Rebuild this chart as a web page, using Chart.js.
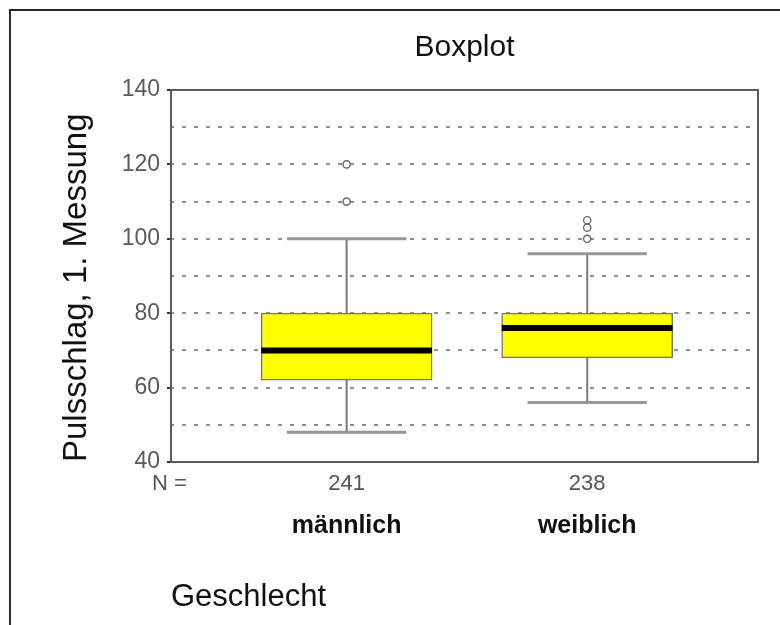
<!DOCTYPE html>
<html>
<head>
<meta charset="utf-8">
<script src="https://cdn.jsdelivr.net/npm/chart.js@4/dist/chart.umd.min.js"></script>
<style>
  html, body { margin: 0; padding: 0; background: #fff; }
  #wrap { width: 780px; height: 625px; }
</style>
</head>
<body>
<div id="wrap"><canvas id="chart" width="780" height="625"></canvas></div>
<script>
// Pulse rate (first measurement) by sex
const categories = ['männlich', 'weiblich'];
const counts = [241, 238];
const whiskerLow = [48, 56];
const quartile1 = [62, 68];
const medians = [70, 76];
const quartile3 = [80, 80];
const whiskerHigh = [100, 96];
const outliers = [[110, 120], [100, 103, 105]];
const yTicks = [40, 60, 80, 100, 120, 140];

const FONT = "'Liberation Sans', Arial, Helvetica, sans-serif";
const BOX_PX = 171;      // box width in pixels
const CAP_HALF = 0.248;  // whisker cap half-width (x units)
const MED_HALF = 0.355;  // median bar half-width (x units)

const xs = categories.map((_, i) => i + 1);

// build segment lists (null points break the line between groups)
function segments(fn) {
  const out = [];
  xs.forEach((x, i) => { fn(x, i).forEach(p => out.push(p)); out.push({ x: x + 0.5, y: null }); });
  return out;
}

const boxData = xs.map((x, i) => ({ x, y: [quartile1[i], quartile3[i]] }));
const stemData = segments((x, i) => [{ x, y: whiskerLow[i] }, { x, y: whiskerHigh[i] }]);
const capData = segments((x, i) => [
  { x: x - CAP_HALF, y: whiskerHigh[i] }, { x: x + CAP_HALF, y: whiskerHigh[i] }, { x, y: null },
  { x: x - CAP_HALF, y: whiskerLow[i] }, { x: x + CAP_HALF, y: whiskerLow[i] }
]);
const medianData = segments((x, i) => [{ x: x - MED_HALF, y: medians[i] }, { x: x + MED_HALF, y: medians[i] }]);
const outlierData = [];
xs.forEach((x, i) => outliers[i].forEach(v => outlierData.push({ x, y: v })));

// outer page frame and plot frame, plus the "N =" row label
const framePlugin = {
  id: 'frames',
  afterDraw(chart) {
    const { ctx, chartArea: a } = chart;
    ctx.save();
    ctx.strokeStyle = '#2a2a2a';
    ctx.lineWidth = 2;
    ctx.beginPath();
    ctx.moveTo(10, 625); ctx.lineTo(10, 10); ctx.lineTo(780, 10);
    ctx.stroke();
    ctx.strokeStyle = '#5c5c5c';
    ctx.lineWidth = 2;
    ctx.strokeRect(a.left, a.top, a.right - a.left, a.bottom - a.top);
    const sx = chart.scales.x;
    ctx.fillStyle = '#555';
    ctx.font = '22px ' + FONT;
    ctx.textAlign = 'left';
    ctx.textBaseline = 'middle';
    ctx.fillText('N =', a.left - 19, sx.top + 8.8 + 13.2);
    ctx.restore();
  }
};

const xRange = { min: 0.27, max: 2.71 };

new Chart(document.getElementById('chart'), {
  type: 'bar',
  data: {
    datasets: [
      {
        type: 'bar', data: boxData, order: 5,
        backgroundColor: '#ffff00', borderColor: '#767676', borderWidth: 1.5,
        borderSkipped: false, barThickness: BOX_PX
      },
      {
        type: 'line', data: stemData, order: 6, spanGaps: false,
        borderColor: '#7a7a7a', borderWidth: 2, pointRadius: 0
      },
      {
        type: 'line', data: capData, order: 4, spanGaps: false,
        borderColor: '#979797', borderWidth: 3, pointRadius: 0
      },
      {
        type: 'line', data: medianData, order: 3, spanGaps: false,
        borderColor: '#000', borderWidth: 6, pointRadius: 0, borderCapStyle: 'butt'
      },
      {
        type: 'scatter', data: outlierData, order: 1,
        pointStyle: 'circle', pointRadius: 3.6, pointBorderWidth: 1.4,
        pointBorderColor: '#666', pointBackgroundColor: '#fff'
      }
    ]
  },
  options: {
    responsive: false,
    animation: false,
    layout: { padding: { left: 0, right: 22, top: 0, bottom: 0 } },
    plugins: {
      legend: { display: false },
      tooltip: { enabled: false },
      title: {
        display: true, text: 'Boxplot', fullSize: false, color: '#111',
        font: { family: FONT, size: 30, weight: 'normal' },
        padding: { top: 30, bottom: 24 }
      }
    },
    scales: {
      y: {
        min: 40, max: 140,
        afterFit(s) { s.width = 171; },
        ticks: {
          stepSize: 10, padding: 7, color: '#5a5a5a',
          font: { family: FONT, size: 23 },
          callback: v => (yTicks.includes(v) ? String(v) : '')
        },
        grid: {
          color: c => (c.tick && (c.tick.value === 40 || c.tick.value === 140)) ? 'rgba(0,0,0,0)' : '#8e8e8e',
          lineWidth: 2,
          drawTicks: true, tickLength: 4, tickWidth: 2,
          tickColor: c => (c.tick && yTicks.includes(c.tick.value)) ? '#333' : 'rgba(0,0,0,0)'
        },
        border: { display: false, dash: [4, 8], dashOffset: 1 },
        title: {
          display: true, text: 'Pulsschlag, 1. Messung', align: 'start', color: '#111',
          font: { family: FONT, size: 33 }, padding: { top: 57.2, bottom: 0 }
        }
      },
      x: {
        type: 'linear', position: 'bottom', weight: 0, offset: false,
        min: xRange.min, max: xRange.max,
        afterFit(s) { s.height = 38; },
        afterBuildTicks(s) { s.ticks = xs.map(v => ({ value: v })); },
        grid: { display: false, drawTicks: false, offset: false },
        border: { display: false },
        ticks: {
          padding: 8.8, color: '#555', autoSkip: false, maxRotation: 0,
          font: { family: FONT, size: 22 },
          callback: v => String(counts[v - 1])
        }
      },
      x2: {
        type: 'linear', position: 'bottom', weight: 1, offset: false,
        min: xRange.min, max: xRange.max,
        afterFit(s) { s.height = 125; },
        afterBuildTicks(s) { s.ticks = xs.map(v => ({ value: v })); },
        grid: { display: false, drawTicks: false, offset: false },
        border: { display: false },
        ticks: {
          padding: 11.3, color: '#111', autoSkip: false, maxRotation: 0,
          font: { family: FONT, size: 25, weight: 'bold' },
          callback: v => categories[v - 1]
        },
        title: {
          display: true, text: 'Geschlecht', align: 'start', color: '#111',
          font: { family: FONT, size: 31 }, padding: { top: 0, bottom: 9 }
        }
      }
    }
  },
  plugins: [framePlugin]
});
</script>
</body>
</html>
